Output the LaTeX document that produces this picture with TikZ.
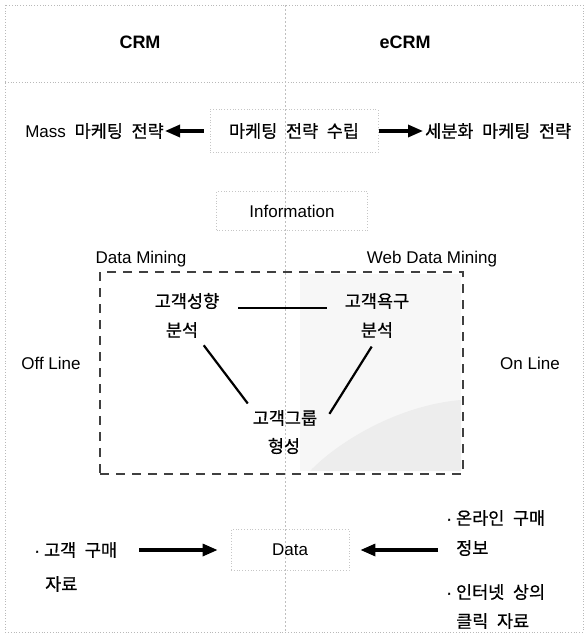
\documentclass[tikz,border=0pt]{standalone}
\usepackage{fontspec}
\setmainfont{Liberation Sans}
\newfontfamily\kor[FakeBold=0.6,WordSpace=2.2]{Noto Sans CJK KR}
\newfontfamily\lat[FakeBold=0.6]{Liberation Sans}
\newcommand\dotmark{{\lat ·}\hspace{4pt}}
\usetikzlibrary{arrows.meta}

\begin{document}
\begin{tikzpicture}[x=1pt,y=-1pt,
        every node/.style={font=\fontsize{17}{20}\selectfont, inner sep=0pt},
        kr/.style={font=\fontsize{17.5}{20}\selectfont\kor},
        head/.style={font=\fontsize{18}{20}\selectfont\bfseries},
        softbox/.style={draw=gray!45, dotted, line width=0.8pt},
        minebox/.style={draw=black!75, line width=2.2pt, dash pattern=on 9pt off 7pt},
        frame/.style={draw=gray!55, dotted, line width=0.8pt},
        bigarrow/.style={line width=3.2pt, -{Triangle[length=15pt,width=12pt]}},
        link/.style={line width=2.2pt}]
    \useasboundingbox (0,0) rectangle (585,634);
    % frame, header and middle line
    \fill[gray!6] (300,274) rectangle (461,471);
    \fill[gray!14] (461,400) .. controls (400,405) and (340,440) .. (310,471) -- (461,471) -- cycle;
    \draw[frame] (5,5) rectangle (583,632);
    \draw[frame] (5,82) -- (583,82);
    \draw[gray!50, line width=1pt, dash pattern=on 2pt off 2pt] (285,5) -- (285,632);

    \node[head] (crm) at (140,42) {CRM};
    \node[head] (ecrm) at (405,42) {eCRM};

    % strategy
    \node[softbox, kr, minimum width=168pt, minimum height=43pt] (plan) at (294,131) {마케팅 전략 수립};
    \node[anchor=east] (mass) at (164,131) {Mass\hspace{4pt} {\kor\fontsize{17.5}{20}\selectfont 마케팅 전략}};
    \node[kr, anchor=west] (seg) at (425,131) {세분화 마케팅 전략};
    \draw[bigarrow, shorten <=6pt, shorten >=1pt] (plan.west) -- (plan.west -| mass.east);
    \draw[bigarrow, shorten <=1pt, shorten >=2pt] (plan.east) -- (plan.east -| seg.west);

    \node[softbox, minimum width=151pt, minimum height=39pt] (info) at (292,211) {Information};

    % mining
    \node (dm) at (141,259) {Data Mining};
    \node (wdm) at (432,259) {Web Data Mining};
    \node[minebox, minimum width=363pt, minimum height=202pt] (mining) at (281.5,373) {};
    \node[kr] (trait) at (187,301) {고객성향};
    \node[kr] (traitb) at (182,330) {분석};
    \node[kr] (needs) at (377,301) {고객욕구};
    \node[kr] (needsb) at (377,330) {분석};
    \node[kr] (group) at (285,418) {고객그룹};
    \node[kr] (groupb) at (284,446) {형성};
    \draw[link, shorten <=19pt, shorten >=18pt] ([yshift=-7pt]trait.east) -- ([yshift=-7pt]needs.west);
    \draw[link, shorten <=9pt, shorten >=8pt] (traitb.south east) -- (group.north west);
    \draw[link, shorten <=10pt] (needsb.south) -- ([xshift=12pt,yshift=-4pt]group.north east);

    \node (off) at (51,363) {Off Line};
    \node (on) at (530,363) {On Line};

    % data
    \node[softbox, minimum width=118pt, minimum height=41pt] (data) at (290,550) {Data};
    \node[kr, anchor=west] (buy) at (34,550) {\dotmark 고객 구매};
    \node[kr, anchor=west] (buyb) at (45,584) {자료};
    \node[kr, anchor=west] (online) at (446,518) {\dotmark 온라인 구매};
    \node[kr, anchor=west] (onlineb) at (456,548) {정보};
    \node[kr, anchor=west] (click) at (446,592) {\dotmark 인터넷 상의};
    \node[kr, anchor=west] (clickb) at (456,621) {클릭 자료};
    \draw[bigarrow, shorten <=22pt, shorten >=13pt] (buy.east) -- (buy.east -| data.west);
    \draw[bigarrow, shorten <=8pt, shorten >=11pt] (data.east -| online.west) -- (data.east);
\end{tikzpicture}
\end{document}
